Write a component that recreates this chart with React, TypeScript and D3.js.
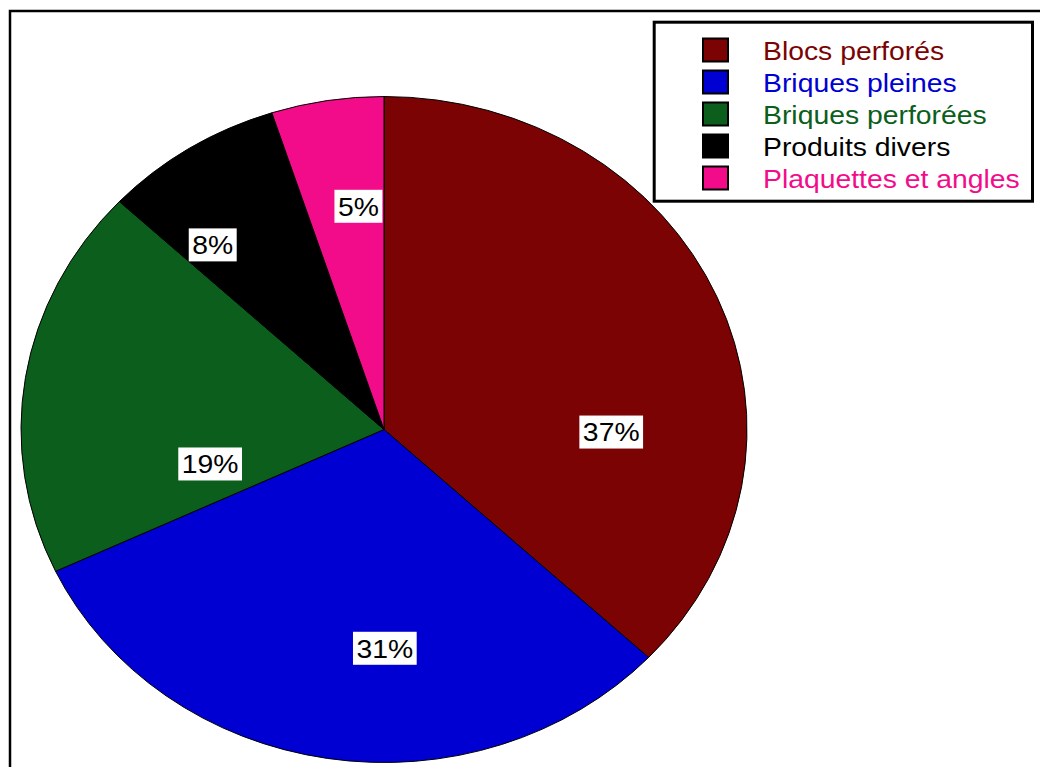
import React, { useRef, useEffect } from "react";
import * as d3 from "d3";

const categories = [
  "Blocs perforés",
  "Briques pleines",
  "Briques perforées",
  "Produits divers",
  "Plaquettes et angles",
];
const shares = [37, 31, 19, 8, 5];
const colors = ["#7b0303", "#0000d2", "#0b5e1b", "#000000", "#f20c8a"];

// where each % label sits: angle (deg, clockwise from 12 o'clock), fraction of radius
const labelAngles = [90.7, 179.8, 257.8, 319.6, 354];
const labelRadii = [0.626, 0.657, 0.49, 0.728, 0.674];

const W = 1040;
const H = 767;
const cx = 384;
const cy = 429.5;
const ry = 333;
const stretch = 363 / 333; // the picture is wider than tall
const font = "'Liberation Sans', Arial, sans-serif";

export default function App() {
  const svgRef = useRef<SVGSVGElement>(null);

  useEffect(() => {
    if (!svgRef.current) return;
    const svg = d3.select(svgRef.current);
    svg.selectAll("*").remove();

    // outer frame
    svg
      .append("rect")
      .attr("x", 10)
      .attr("y", 11)
      .attr("width", 1200)
      .attr("height", 1000)
      .attr("fill", "none")
      .attr("stroke", "#000")
      .attr("stroke-width", 2.5);

    const pieData = d3
      .pie<number>()
      .value((d) => d)
      .sort(null)(shares);

    const arc = d3.arc<d3.PieArcDatum<number>>().innerRadius(0).outerRadius(ry);

    const g = svg
      .append("g")
      .attr("transform", `translate(${cx},${cy}) scale(${stretch},1)`);

    g.selectAll("path")
      .data(pieData)
      .join("path")
      .attr("d", arc)
      .attr("fill", (_, i) => colors[i])
      .attr("stroke", "#000")
      .attr("stroke-width", 1)
      .attr("vector-effect", "non-scaling-stroke");

    // percentage labels
    const labels = svg.append("g");
    pieData.forEach((d, i) => {
      const a = (labelAngles[i] * Math.PI) / 180;
      const r = labelRadii[i] * ry;
      const la = d3.arc<any>().innerRadius(r).outerRadius(r);
      const [lx, ly] = la.centroid({ startAngle: a, endAngle: a } as any);
      const px = cx + lx * stretch;
      const py = cy + ly;
      const lg = labels.append("g");
      const box = lg.append("rect").attr("fill", "#fff");
      const t = lg
        .append("text")
        .attr("transform", `translate(${px},${py + 9.3}) scale(${stretch},1)`)
        .attr("text-anchor", "middle")
        .attr("font-family", font)
        .attr("font-size", 26)
        .attr("fill", "#000")
        .text(`${shares[i]}%`);
      const tw = (t.node() as SVGTextElement).getComputedTextLength() * stretch;
      box
        .attr("x", px - tw / 2 - 3.5)
        .attr("y", py - 16.5)
        .attr("width", tw + 7)
        .attr("height", 33);
    });

    // legend
    const legend = svg.append("g");
    legend
      .append("rect")
      .attr("x", 654.2)
      .attr("y", 22.2)
      .attr("width", 378.3)
      .attr("height", 179)
      .attr("fill", "#fff")
      .attr("stroke", "#000")
      .attr("stroke-width", 3);

    categories.forEach((c, i) => {
      const top = 37.5 + i * 32;
      legend
        .append("rect")
        .attr("x", 703)
        .attr("y", top + 1)
        .attr("width", 25)
        .attr("height", 23)
        .attr("fill", colors[i])
        .attr("stroke", "#000")
        .attr("stroke-width", 2);
      legend
        .append("text")
        .attr("transform", `translate(763,${top + 22}) scale(${stretch},1)`)
        .attr("font-family", font)
        .attr("font-size", 26)
        .attr("fill", colors[i])
        .text(c);
    });
  }, []);

  return (
    <svg
      ref={svgRef}
      width={W}
      height={H}
      style={{ position: "absolute", left: 0, top: 0, background: "#fff" }}
    />
  );
}
